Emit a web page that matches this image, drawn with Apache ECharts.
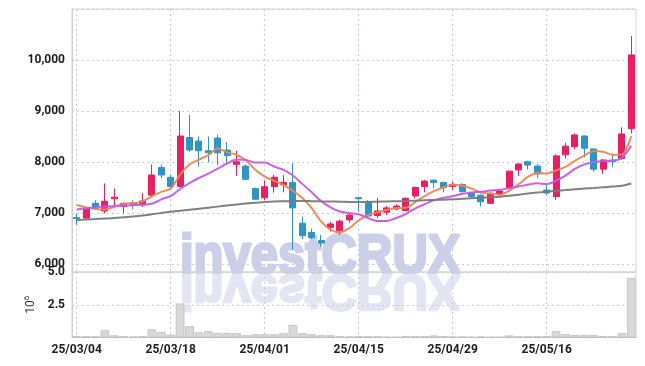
<!DOCTYPE html>
<html><head><meta charset="utf-8">
<script src="https://cdn.jsdelivr.net/npm/echarts@6/dist/echarts.min.js"></script>
<style>html,body{margin:0;padding:0;background:#fff}#c{width:645px;height:366px}</style>
</head><body><div id="c"></div>
<script>
const dates = ['25/03/04','25/03/05','25/03/06','25/03/07','25/03/10','25/03/11','25/03/12','25/03/13','25/03/14','25/03/17',
'25/03/18','25/03/19','25/03/20','25/03/21','25/03/24','25/03/25','25/03/26','25/03/27','25/03/28','25/03/31',
'25/04/01','25/04/02','25/04/03','25/04/04','25/04/07','25/04/08','25/04/09','25/04/10','25/04/11','25/04/14',
'25/04/15','25/04/16','25/04/17','25/04/18','25/04/21','25/04/22','25/04/23','25/04/24','25/04/25','25/04/28',
'25/04/29','25/04/30','25/05/02','25/05/07','25/05/08','25/05/09','25/05/12','25/05/13','25/05/14','25/05/15',
'25/05/16','25/05/19','25/05/20','25/05/21','25/05/22','25/05/23','25/05/26','25/05/27','25/05/28','25/05/29'];
const opens = [6910,6900,7190,7040,7280,7130,7200,7170,7350,7890,7700,7520,8480,8410,8220,8470,8235,7955,7920,7480,
7300,7516,7550,7600,6800,6620,6460,6720,6650,6865,7300,7210,6950,7015,7080,7045,7335,7515,7645,7600,
7520,7560,7400,7350,7190,7370,7500,7845,8005,7920,7450,7320,8140,8300,8510,8255,7860,8040,8070,8650];
const closes = [6890,7090,7090,7230,7310,7190,7150,7235,7745,7745,7520,8510,8235,8220,8180,8180,8125,8005,7660,7270,
7515,7700,7600,7100,6555,6515,6410,6785,6840,6960,7280,6940,7040,7100,7135,7290,7500,7625,7595,7495,
7560,7420,7320,7220,7385,7430,7820,7960,7940,7765,7390,8120,8310,8530,8270,7860,8040,8005,8550,10100];
const lows = [6770,6890,7060,6990,7090,7000,7070,7120,7310,7680,7470,7500,8200,7910,8000,7940,7975,7725,7640,7260,
7255,7400,7405,6275,6490,6490,6340,6635,6570,6810,7025,6915,6895,6960,7050,7040,7290,7405,7490,7405,
7450,7400,7300,7125,7180,7340,7490,7725,7855,7680,7350,7255,8070,8250,8090,7810,7765,7895,8040,8560];
const highs = [6990,7120,7250,7580,7480,7200,7250,7390,7950,7950,7750,9000,8920,8500,8500,8540,8390,8220,7950,7500,
7635,7745,7745,7975,6930,6690,6570,6830,6870,7010,7310,7255,7300,7135,7170,7300,7515,7645,7650,7610,
7615,7580,7410,7360,7400,7445,7835,7970,8025,7960,7580,8150,8380,8560,8520,8260,8050,8135,8680,10470];
const ma5 = [7157,7110,7080,7070,7122,7182,7194,7223,7326,7413,7479,7751,7951,8046,8133,8265,8188,8142,8030,7848,
7715,7630,7549,7437,7294,7094,6836,6673,6621,6702,6855,6961,7012,7064,7099,7101,7213,7330,7429,7501,
7555,7539,7478,7403,7381,7355,7435,7563,7707,7783,7775,7835,7905,8023,8124,8218,8202,8141,8145,8511];
const ma10 = [7070,7090,7110,7125,7135,7145,7150,7160,7180,7268,7331,7473,7587,7686,7773,7872,7970,8047,8038,7991,
7990,7909,7846,7734,7571,7405,7233,7111,7029,6998,6975,6899,6843,6843,6901,6978,7087,7171,7247,7300,
7328,7376,7404,7416,7441,7455,7487,7521,7555,7582,7565,7635,7734,7865,7954,7997,8019,8023,8084,8318];
const ma60 = [6865,6872,6880,6890,6900,6915,6930,6950,6975,7000,7025,7045,7065,7085,7105,7125,7145,7165,7185,7200,
7215,7225,7230,7235,7235,7232,7228,7225,7222,7218,7215,7218,7222,7226,7230,7235,7242,7250,7256,7262,
7268,7278,7288,7298,7308,7318,7340,7360,7380,7400,7418,7435,7450,7465,7478,7490,7505,7518,7535,7580];
const volumes = [0.1,0.1,0.1,0.56,0.17,0.1,0.08,0.1,0.63,0.43,0.22,2.6,0.87,0.4,0.48,0.35,0.35,0.33,0.18,0.25,
0.25,0.25,0.33,0.95,0.33,0.25,0.18,0.18,0.1,0.08,0.1,0.1,0.1,0.05,0.05,0.12,0.12,0.12,0.16,0.12,
0.08,0.08,0.05,0.08,0.05,0.05,0.16,0.1,0.1,0.1,0.12,0.48,0.27,0.2,0.2,0.2,0.12,0.1,0.33,4.56];
const priceTicks = [6000,7000,8000,9000,10000];
const volumeTicks = [2.5,5.0];

const ohlc = dates.map((d,i)=>[opens[i],closes[i],lows[i],highs[i]]);
const chart = echarts.init(document.getElementById('c'));
const dotted = {show:true, lineStyle:{color:'#c8cadf', type:[2,3], width:1}};
const vdotted = {show:true, interval:9, alignWithLabel:true, lineStyle:{color:'#c8cadf', type:[2,3], width:1}};
const lblFont = {color:'#1e1e1e', fontSize:12, fontFamily:'Roboto', fontWeight:'bold'};
chart.setOption({
  animation:false,
  grid:[
    {left:72, right:9, top:9, height:263, show:true, borderColor:'#d2d2d2', borderWidth:1},
    {left:72, right:9, top:272, height:65.5, show:true, borderColor:'#d2d2d2', borderWidth:1}
  ],
  graphic:[
    {type:'text', x:180, y:285, scaleY:1.12, z:-1, silent:true,
     style:{text:'investCRUX', font:'bold 49px "Liberation Sans"', fill:'#cbd0e8',
            stroke:'#cbd0e8', lineWidth:2.5, verticalAlign:'bottom'}},
    {type:'text', x:180, y:264, scaleY:-1.03, z:-1, silent:true,
     style:{text:'investCRUX', font:'bold 49px "Liberation Sans"', fill:'#e3e5f2',
            stroke:'#e3e5f2', lineWidth:2.5, verticalAlign:'bottom'}}
  ],
  xAxis:[
    {type:'category', data:dates, gridIndex:0, axisLine:{show:false}, axisTick:{show:false}, axisLabel:{show:false}, splitLine:vdotted},
    {type:'category', data:dates, gridIndex:1, axisLine:{show:true, lineStyle:{color:'#bdbdbd'}}, axisTick:{show:false},
     axisLabel:Object.assign({interval:9, margin:6}, lblFont), splitLine:vdotted}
  ],
  yAxis:[
    {type:'value', gridIndex:0, min:5843, max:11000, splitNumber:5, minInterval:1000, maxInterval:1000,
     axisLine:{show:true, lineStyle:{color:'#cfcfcf'}}, axisTick:{show:false},
     axisLabel:Object.assign({margin:7, showMinLabel:false, showMaxLabel:false,
       formatter:v=>priceTicks.includes(v)?v.toLocaleString('en-US'):''}, lblFont),
     splitLine:dotted},
    {type:'value', gridIndex:1, min:0, max:5, interval:2.5,
     name:'10{s|6}', nameLocation:'middle', nameGap:32, nameRotate:90,
     nameTextStyle:{color:'#333', fontSize:12, fontFamily:'Roboto', rich:{s:{fontSize:8, color:'#333', padding:[0,0,7,0]}}},
     axisLine:{show:true, lineStyle:{color:'#cfcfcf'}}, axisTick:{show:false},
     axisLabel:Object.assign({margin:7, formatter:v=>volumeTicks.includes(v)?v.toFixed(1):''}, lblFont),
     splitLine:dotted}
  ],
  series:[
    {type:'candlestick', data:ohlc, xAxisIndex:0, yAxisIndex:0, barWidth:'70%',
     itemStyle:{color:'#e91e63', color0:'#2e95c6', borderColor:'#e91e63', borderColor0:'#2e95c6', borderWidth:1}},
    {type:'line', data:ma5, xAxisIndex:0, yAxisIndex:0, smooth:0.3, symbol:'none',
     lineStyle:{color:'#ee8650', width:2, opacity:0.95}},
    {type:'line', data:ma10, xAxisIndex:0, yAxisIndex:0, smooth:0.3, symbol:'none',
     lineStyle:{color:'#c957ea', width:2, opacity:0.95}},
    {type:'line', data:ma60, xAxisIndex:0, yAxisIndex:0, smooth:0.3, symbol:'none',
     lineStyle:{color:'#7a7a7a', width:2, opacity:0.95}},
    {type:'bar', data:volumes, xAxisIndex:1, yAxisIndex:1, barCategoryGap:'6%',
     itemStyle:{color:'#d8d8d8', borderColor:'#c6c6c6', borderWidth:1}}
  ]
});
</script></body></html>
